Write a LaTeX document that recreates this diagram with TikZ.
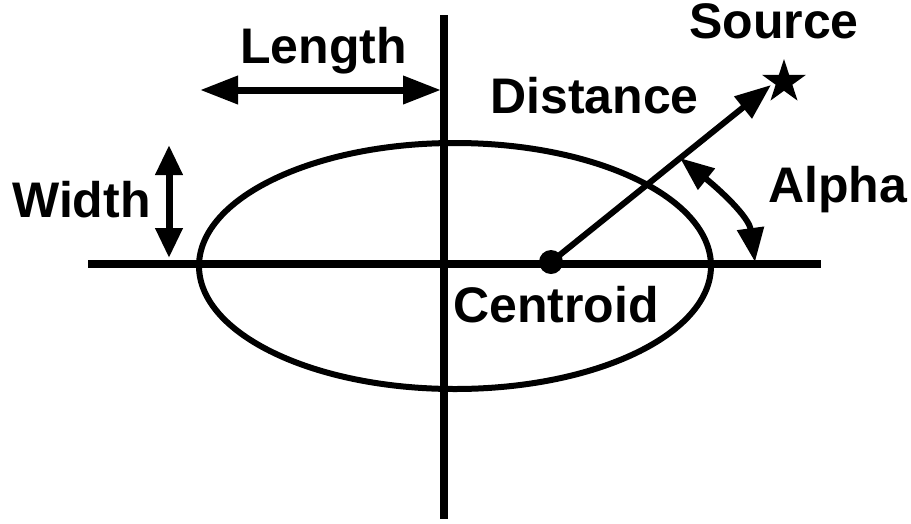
\documentclass[tikz,border=0pt]{standalone}
\usepackage{fontspec}
\setmainfont{Liberation Sans}
\usetikzlibrary{arrows.meta,shapes.geometric}
\begin{document}
\begin{tikzpicture}[x=1pt,y=-1pt,
  lbl/.style={font=\fontsize{50}{56}\selectfont\bfseries, inner sep=0pt, anchor=base west},
  axis/.style={line width=7.5pt},
  dimarrow/.style={line width=7pt, {Triangle[length=38pt,width=27pt]}-{Triangle[length=38pt,width=27pt]}},
  vdimarrow/.style={line width=7pt, {Triangle[length=30pt,width=26pt]}-{Triangle[length=30pt,width=26pt]}},
  thin/.style={line width=6pt}]
\path[use as bounding box] (0,0) rectangle (911,523);
% axes
\coordinate (hl) at (88,264);
\coordinate (hr) at (821,264);
\coordinate (vt) at (444,15);
\coordinate (vb) at (444,519);
\draw[axis] (hl) -- (hr);
\draw[axis] (vt) -- (vb);
% ellipse
\draw[thin] (455,266) ellipse [x radius=256, y radius=123];
% length arrow
\coordinate (la) at (200,90);
\coordinate (lb) at (441,90);
\draw[dimarrow] (la) -- (lb);
% width arrow
\coordinate (wa) at (169,145);
\coordinate (wb) at (169,258);
\draw[vdimarrow] (wa) -- (wb);
% centroid and source
\node[circle, fill=black, minimum size=24pt, inner sep=0pt] (cen) at (551,262) {};
\node[star, star points=5, star point ratio=2.618, fill=black, minimum size=46pt, inner sep=0pt] (src) at (784,82) {};
\coordinate (dtip) at (771,85);
\draw[thin, -{Triangle[length=36pt,width=27pt]}] (cen.center) -- (dtip);
% alpha arc
\coordinate (aa) at (680,158);
\coordinate (ab) at (755,262);
\draw[thin, {Triangle[length=34pt,width=26pt]}-{Triangle[length=34pt,width=26pt]}] (aa) .. controls (720,190) and (749,217) .. (ab);
% labels
\node[lbl] (tlen) at (240,63) {Length};
\node[lbl] (tsrc) at (689,38) {Source};
\node[lbl] (tdist) at (490,113) {Distance};
\node[lbl] (talp) at (768,202) {Alpha};
\node[lbl] (twid) at (12,217) {Width};
\node[lbl] (tcen) at (453,322) {Centroid};
\end{tikzpicture}
\end{document}
